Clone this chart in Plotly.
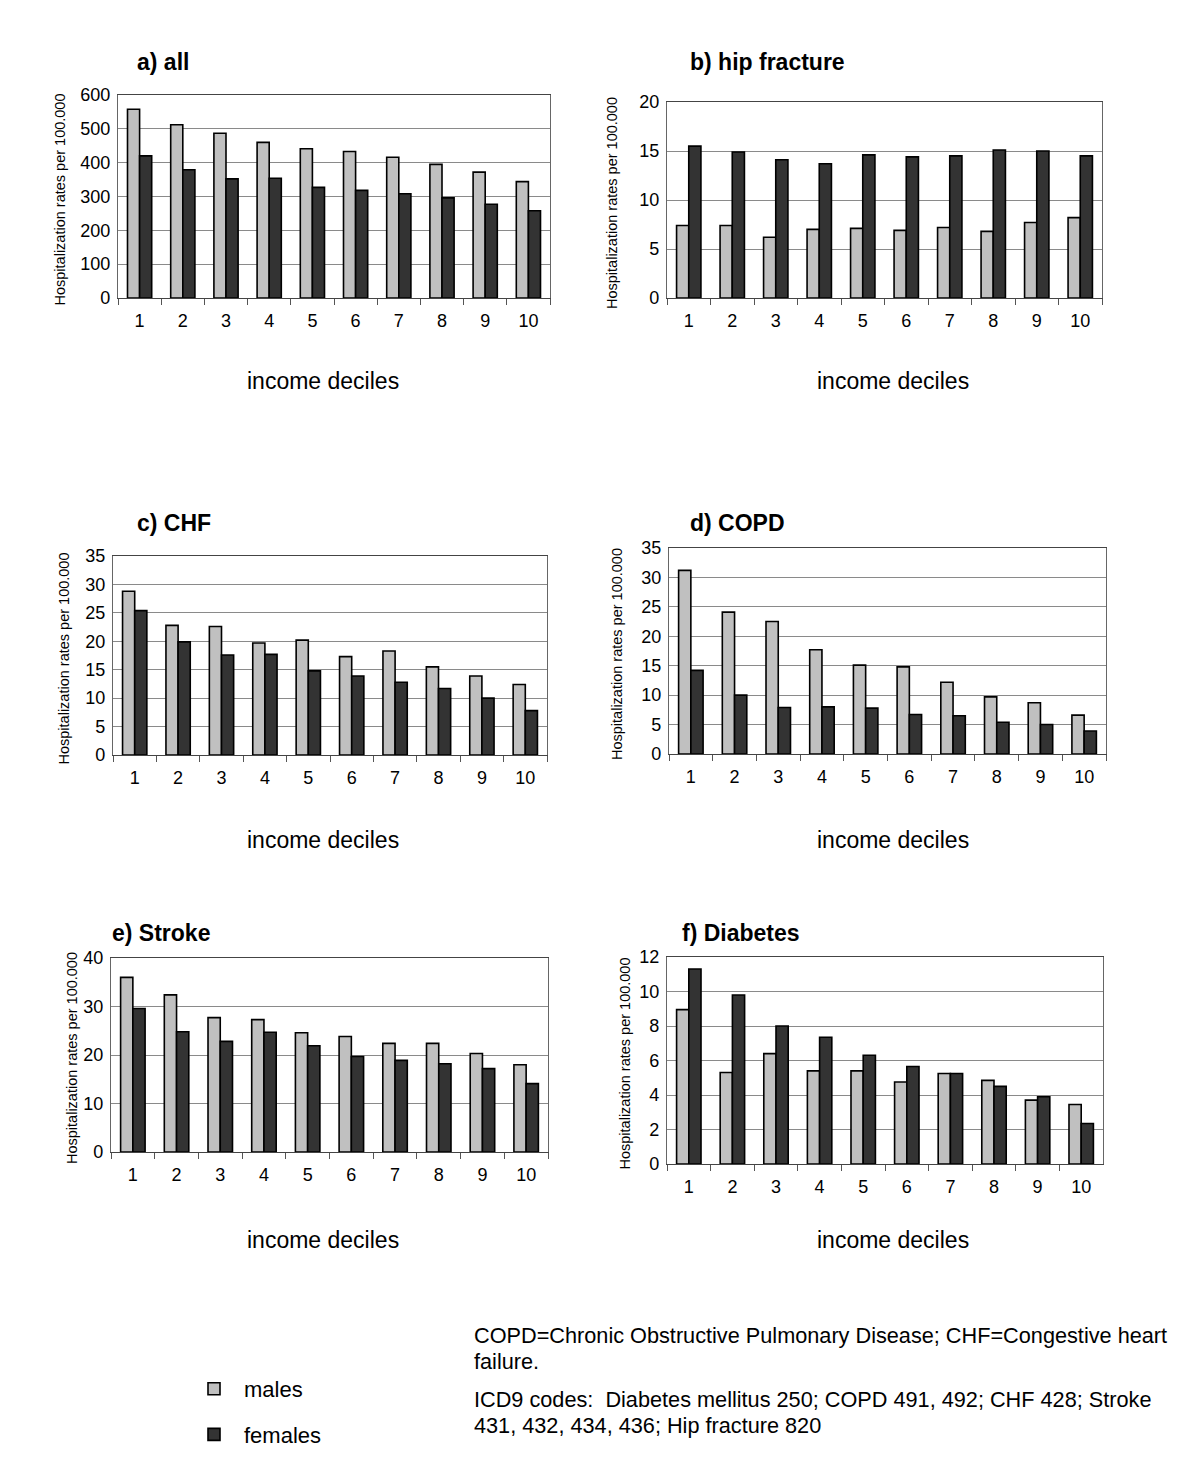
import plotly.graph_objects as go
from plotly.subplots import make_subplots

deciles = ["1", "2", "3", "4", "5", "6", "7", "8", "9", "10"]

all_males = [558, 512, 487, 460, 441, 433, 416, 395, 372, 344]
all_females = [420, 379, 352, 354, 327, 318, 308, 296, 277, 258]

hip_males = [7.4, 7.4, 6.2, 7.0, 7.1, 6.9, 7.2, 6.8, 7.7, 8.2]
hip_females = [15.5, 14.9, 14.1, 13.7, 14.6, 14.4, 14.5, 15.1, 15.0, 14.5]

chf_males = [28.8, 22.8, 22.6, 19.7, 20.2, 17.3, 18.3, 15.5, 13.9, 12.4]
chf_females = [25.4, 19.9, 17.6, 17.7, 14.8, 13.9, 12.8, 11.7, 10.0, 7.8]

copd_males = [31.2, 24.1, 22.5, 17.7, 15.1, 14.8, 12.2, 9.7, 8.7, 6.6]
copd_females = [14.2, 10.0, 7.9, 8.0, 7.8, 6.7, 6.5, 5.4, 5.0, 3.9]

stroke_males = [36.0, 32.4, 27.7, 27.3, 24.6, 23.8, 22.4, 22.4, 20.3, 18.0]
stroke_females = [29.6, 24.8, 22.8, 24.7, 21.9, 19.7, 18.9, 18.2, 17.2, 14.1]

diab_males = [8.95, 5.3, 6.4, 5.4, 5.4, 4.75, 5.25, 4.85, 3.7, 3.45]
diab_females = [11.3, 9.8, 8.0, 7.35, 6.3, 5.65, 5.25, 4.5, 3.9, 2.35]

panel_titles = ["a) all", "b) hip fracture", "c) CHF", "d) COPD", "e) Stroke", "f) Diabetes"]
y_max = [600, 20, 35, 35, 40, 12]
y_dtick = [100, 5, 5, 5, 10, 2]
series = [
    (all_males, all_females),
    (hip_males, hip_females),
    (chf_males, chf_females),
    (copd_males, copd_females),
    (stroke_males, stroke_females),
    (diab_males, diab_females),
]

# page body has an 8px margin; work in page pixels and convert
OFF = 8
W, H = 1200 - 2 * OFF, 1474 - 2 * OFF


def px(x):
    return (x - OFF) / W


def py(y):
    return 1 - (y - OFF) / H


# plot areas in page pixels: (left, right, top, bottom)
boxes = [
    (118, 550, 95, 298),
    (667, 1102, 102, 298),
    (113, 547, 556, 755),
    (669, 1106, 548, 754),
    (111, 548, 958, 1152),
    (667, 1103, 957, 1164),
]
title_pos = [(135, 62), (688, 62), (135, 523), (688, 523), (110, 933), (680, 933)]
ylab_x = [60, 612, 63, 617, 72, 624]

FONT = "Arial, Liberation Sans, sans-serif"
MALE = "#c0c0c0"
FEMALE = "#333333"

fig = make_subplots(rows=3, cols=2)

for i, (m, f) in enumerate(series):
    r, c = i // 2 + 1, i % 2 + 1
    fig.add_trace(go.Bar(x=deciles, y=m, name="males", marker_color=MALE,
                         marker_line=dict(color="black", width=1.6),
                         showlegend=(i == 0), legendgroup="m"), row=r, col=c)
    fig.add_trace(go.Bar(x=deciles, y=f, name="females", marker_color=FEMALE,
                         marker_line=dict(color="black", width=1.6),
                         showlegend=(i == 0), legendgroup="f"), row=r, col=c)

annotations = []
for i in range(6):
    l, rr, t, b = boxes[i]
    ax = "" if i == 0 else str(i + 1)
    fig.layout["xaxis" + ax].update(
        domain=[px(l), px(rr)], type="category", tickson="boundaries",
        ticks="outside", ticklen=6, tickcolor="#555", showline=True,
        linecolor="#444", linewidth=1.2, mirror=True, showgrid=False,
        tickfont=dict(family=FONT, size=18, color="black"), ticklabelstandoff=6,
        automargin=False,
    )
    fig.layout["yaxis" + ax].update(
        domain=[py(b), py(t)], range=[0, y_max[i]], dtick=y_dtick[i],
        showgrid=True, gridcolor="#8a8a8a", gridwidth=1, showline=True,
        linecolor="#666", linewidth=1.2, mirror=True, ticks="",
        tickfont=dict(family=FONT, size=18, color="black"), zeroline=False,
        automargin=False, ticklabelstandoff=3,
    )
    tx, ty = title_pos[i]
    annotations.append(dict(text="<b>" + panel_titles[i] + "</b>", x=px(tx), y=py(ty),
                            xref="paper", yref="paper", xanchor="left", yanchor="middle",
                            showarrow=False, font=dict(family=FONT, size=23, color="black")))
    annotations.append(dict(text="Hospitalization rates per 100.000", x=px(ylab_x[i]),
                            y=py((t + b) / 2 + 3), xref="paper", yref="paper",
                            textangle=-90, showarrow=False, xanchor="center", yanchor="middle",
                            font=dict(family=FONT, size=14.5, color="black")))

for cx, cy in [(323, 381), (893, 381), (323, 840), (893, 840), (323, 1240), (893, 1240)]:
    annotations.append(dict(text="income deciles", x=px(cx), y=py(cy), xref="paper",
                            yref="paper", showarrow=False, xanchor="center", yanchor="middle",
                            font=dict(family=FONT, size=23, color="black")))

foot = [
    ("COPD=Chronic Obstructive Pulmonary Disease; CHF=Congestive heart", 1335),
    ("failure.", 1361),
    ("ICD9 codes:  Diabetes mellitus 250; COPD 491, 492; CHF 428; Stroke", 1399),
    ("431, 432, 434, 436; Hip fracture 820", 1425),
]
for txt, yy in foot:
    annotations.append(dict(text=txt, x=px(472), y=py(yy), xref="paper", yref="paper",
                            showarrow=False, xanchor="left", yanchor="middle",
                            font=dict(family=FONT, size=21.7, color="black")))

fig.update_layout(
    width=W, height=H, margin=dict(l=0, r=0, t=0, b=0, autoexpand=False),
    paper_bgcolor="white", plot_bgcolor="white",
    barmode="group", bargap=0.44, bargroupgap=0,
    annotations=annotations,
    legend=dict(x=px(184), y=py(1368), xanchor="left", yanchor="top",
                font=dict(family=FONT, size=22, color="black"),
                tracegroupgap=14, itemwidth=50, bgcolor="rgba(0,0,0,0)"),
    font=dict(family=FONT),
)

fig.write_html("out.html")
